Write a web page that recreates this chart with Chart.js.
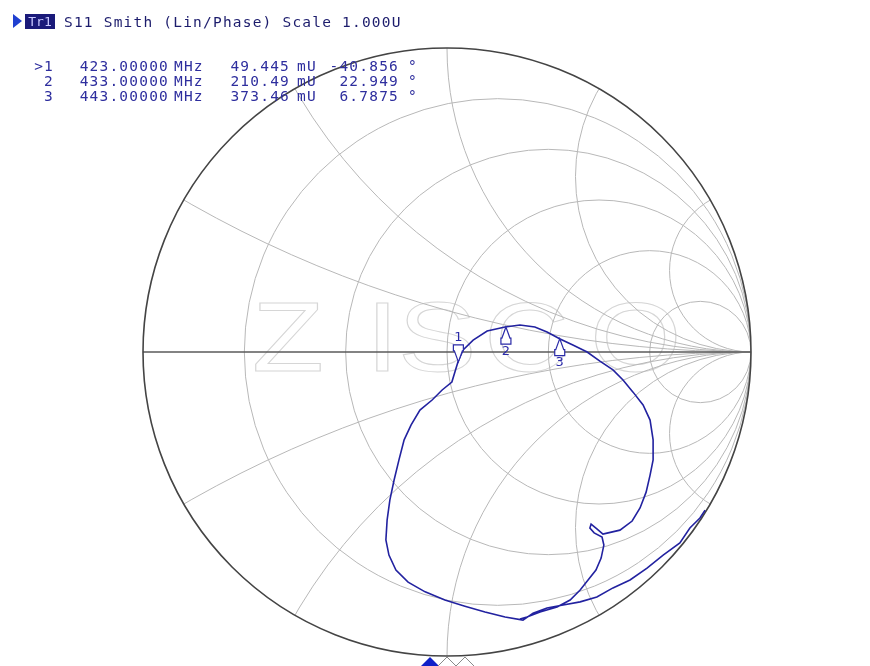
<!DOCTYPE html>
<html>
<head>
<meta charset="utf-8">
<script src="https://cdn.jsdelivr.net/npm/chart.js@4.4.0/dist/chart.umd.min.js"></script>
<style>
  body { margin: 0; background: #fff; }
  #wrap { position: relative; width: 870px; height: 666px; overflow: hidden; background: #fff; }
  #smith { position: absolute; left: 0; top: 0; }
  .t { position: absolute; font-family: "DejaVu Sans Mono", monospace; font-size: 14.5px; letter-spacing: 1.2px; line-height: 16px; white-space: pre; color: #2e2e9e; }
  .hdr { color: #1c1c6c; }
  #tr { position: absolute; left: 25px; top: 14px; width: 30px; height: 15px; background: #1a1a7a; color: #c8c8ff; font-family: "DejaVu Sans Mono", monospace; font-size: 13px; line-height: 15px; text-align: center; }
  #tri { position: absolute; left: 13px; top: 14px; width: 0; height: 0; border-top: 7px solid transparent; border-bottom: 7px solid transparent; border-left: 9px solid #2040d0; }
</style>
</head>
<body>
<div id="wrap">
  <canvas id="smith" width="870" height="666"></canvas>
  <div id="tri"></div>
  <div id="tr">Tr1</div>
  <div class="t hdr" style="left:64px; top:14px;">S11 Smith (Lin/Phase) Scale 1.000U</div>
  <div id="mkTable"></div>
</div>
<script>
// trace S11 (reflection coefficient, real / imaginary part)
const gammaRe = [0.849, 0.832, 0.799, 0.766, 0.711, 0.658, 0.602, 0.546, 0.493, 0.438, 0.382, 0.329, 0.283, 0.250,
  0.191, 0.125, 0.059, -0.007, -0.072, -0.128, -0.168, -0.191, -0.201, -0.197, -0.188, -0.174, -0.158, -0.141,
  -0.118, -0.089, -0.049, -0.016, 0.016, 0.026, 0.036, 0.053, 0.086, 0.132, 0.191, 0.240, 0.289, 0.329, 0.372,
  0.414, 0.461, 0.503, 0.546, 0.579, 0.612, 0.645, 0.668, 0.678, 0.678, 0.668, 0.655, 0.635, 0.609, 0.569,
  0.530, 0.513, 0.493, 0.474, 0.470, 0.484, 0.510, 0.516, 0.507, 0.490, 0.464, 0.438, 0.405, 0.362, 0.306,
  0.263, 0.240];
const gammaIm = [-0.520, -0.546, -0.579, -0.628, -0.668, -0.711, -0.750, -0.776, -0.806, -0.822, -0.832, -0.842, -0.859, -0.882,
  -0.872, -0.855, -0.836, -0.816, -0.789, -0.757, -0.717, -0.668, -0.618, -0.553, -0.487, -0.421, -0.355, -0.289,
  -0.240, -0.191, -0.158, -0.125, -0.099, -0.066, -0.033, 0.007, 0.039, 0.069, 0.082, 0.089, 0.082, 0.066, 0.043,
  0.023, 0.000, -0.030, -0.059, -0.092, -0.132, -0.174, -0.224, -0.289, -0.355, -0.405, -0.461, -0.513, -0.556, -0.586,
  -0.595, -0.599, -0.582, -0.566, -0.579, -0.595, -0.609, -0.635, -0.678, -0.717, -0.750, -0.783, -0.816, -0.839, -0.855,
  -0.872, -0.878];

// markers
const markerIds = ['>1', '2', '3'];
const markerFreq = ['423.00000', '433.00000', '443.00000'];
const markerMag = [49.445, 210.49, 373.46];     // mU
const markerMagText = ['49.445', '210.49', '373.46'];
const markerPhase = [-40.856, 22.949, 6.7875];  // degrees
const markerPhaseText = ['-40.856', '22.949', '6.7875'];

// Smith chart grid (normalised resistance circles, reactance arcs)
const resistanceCircles = [0.2, 0.5, 1, 2, 5];
const reactanceArcs = [0.268, 0.577, 1, 1.732, 3.732];

// marker readout table
const tbl = document.getElementById('mkTable');
const rightAt = (txt, right, top) =>
  `<div class="t" style="right:${870 - right}px; top:${top}px;">${txt}</div>`;
tbl.innerHTML = markerIds.map((id, i) => {
  const top = 58 + i * 15;
  return rightAt(id, 54, top) +
    rightAt(markerFreq[i], 169, top) +
    `<div class="t" style="left:174px; top:${top}px;">MHz</div>` +
    rightAt(markerMagText[i], 290, top) +
    `<div class="t" style="left:297px; top:${top}px;">mU</div>` +
    rightAt(markerPhaseText[i], 399, top) +
    `<div class="t" style="left:408px; top:${top}px;">°</div>`;
}).join('');

const smithGrid = {
  id: 'smithGrid',
  beforeDatasetsDraw(chart) {
    const { ctx, scales: { x, y } } = chart;
    const cx = x.getPixelForValue(0), cy = y.getPixelForValue(0);
    const R = x.getPixelForValue(1) - cx;

    ctx.save();
    // watermark
    ctx.strokeStyle = '#d6d6d6';
    ctx.lineWidth = 1;
    ctx.font = '98px "Liberation Sans", Arial, sans-serif';
    const wm = [['Z', 252], ['I', 366], ['S', 398], ['C', 484], ['O', 590]];
    wm.forEach(([ch, px]) => {
      ctx.save();
      ctx.translate(px, 371);
      ctx.scale(1.2, 1);
      ctx.strokeText(ch, 0, 0);
      ctx.restore();
    });

    // grid, clipped to the unit circle
    ctx.beginPath();
    ctx.arc(cx, cy, R, 0, Math.PI * 2);
    ctx.clip();
    ctx.strokeStyle = '#b8b8b8';
    ctx.lineWidth = 1;
    resistanceCircles.forEach(r => {
      const px = x.getPixelForValue(r / (1 + r));
      ctx.beginPath();
      ctx.arc(px, cy, R / (1 + r), 0, Math.PI * 2);
      ctx.stroke();
    });
    reactanceArcs.forEach(xv => {
      [1, -1].forEach(s => {
        const px = x.getPixelForValue(1), py = y.getPixelForValue(s / xv);
        ctx.beginPath();
        ctx.arc(px, py, R / xv, 0, Math.PI * 2);
        ctx.stroke();
      });
    });
    ctx.restore();

    // real axis and outer circle
    ctx.save();
    ctx.strokeStyle = '#5a5a5a';
    ctx.lineWidth = 1.3;
    ctx.beginPath();
    ctx.moveTo(x.getPixelForValue(-1), cy);
    ctx.lineTo(x.getPixelForValue(1), cy);
    ctx.stroke();
    ctx.strokeStyle = '#444';
    ctx.lineWidth = 1.6;
    ctx.beginPath();
    ctx.arc(cx, cy, R, 0, Math.PI * 2);
    ctx.stroke();
    ctx.restore();
  },
  afterDatasetsDraw(chart) {
    const { ctx, scales: { x, y } } = chart;
    ctx.save();
    ctx.strokeStyle = '#2a2aa8';
    ctx.fillStyle = '#fff';
    ctx.lineWidth = 1.2;
    ctx.font = '13px "DejaVu Sans", sans-serif';
    ctx.textAlign = 'center';
    markerMag.forEach((m, i) => {
      const a = markerPhase[i] * Math.PI / 180;
      const px = x.getPixelForValue(m / 1000 * Math.cos(a));
      const py = y.getPixelForValue(m / 1000 * Math.sin(a));
      const d = i === 0 ? -1 : 1;   // marker 1 sits above the trace
      ctx.beginPath();
      ctx.moveTo(px, py);
      ctx.lineTo(px - 4, py + d * 11);
      ctx.lineTo(px - 5, py + d * 11);
      ctx.lineTo(px - 5, py + d * 17);
      ctx.lineTo(px + 5, py + d * 17);
      ctx.lineTo(px + 5, py + d * 11);
      ctx.lineTo(px + 4, py + d * 11);
      ctx.closePath();
      ctx.fill();
      ctx.stroke();
      ctx.fillStyle = '#2a2aa8';
      ctx.textBaseline = d < 0 ? 'bottom' : 'top';
      ctx.fillText(String(i + 1), px, py + d * 18);
      ctx.fillStyle = '#fff';
    });
    // stimulus indicators at the bottom edge
    const bx = [430, 447, 465];
    bx.forEach((px, i) => {
      ctx.beginPath();
      ctx.moveTo(px, 657);
      ctx.lineTo(px + 9, 666);
      ctx.lineTo(px, 675);
      ctx.lineTo(px - 9, 666);
      ctx.closePath();
      if (i === 0) { ctx.fillStyle = '#1020c8'; ctx.fill(); }
      else { ctx.strokeStyle = '#8a8a8a'; ctx.lineWidth = 1; ctx.stroke(); }
    });
    ctx.restore();
  }
};

new Chart(document.getElementById('smith'), {
  type: 'scatter',
  data: {
    datasets: [{
      label: 'S11',
      data: gammaRe.map((re, i) => ({ x: re, y: gammaIm[i] })),
      showLine: true,
      borderColor: '#2222a0',
      borderWidth: 1.6,
      pointRadius: 0,
      tension: 0
    }]
  },
  options: {
    responsive: false,
    animation: false,
    layout: { padding: { left: 143, right: 119, top: 48, bottom: 10 } },
    plugins: { legend: { display: false }, tooltip: { enabled: false } },
    scales: {
      x: { type: 'linear', min: -1, max: 1, display: false },
      y: { type: 'linear', min: -1, max: 1, display: false }
    }
  },
  plugins: [smithGrid]
});
</script>
</body>
</html>
